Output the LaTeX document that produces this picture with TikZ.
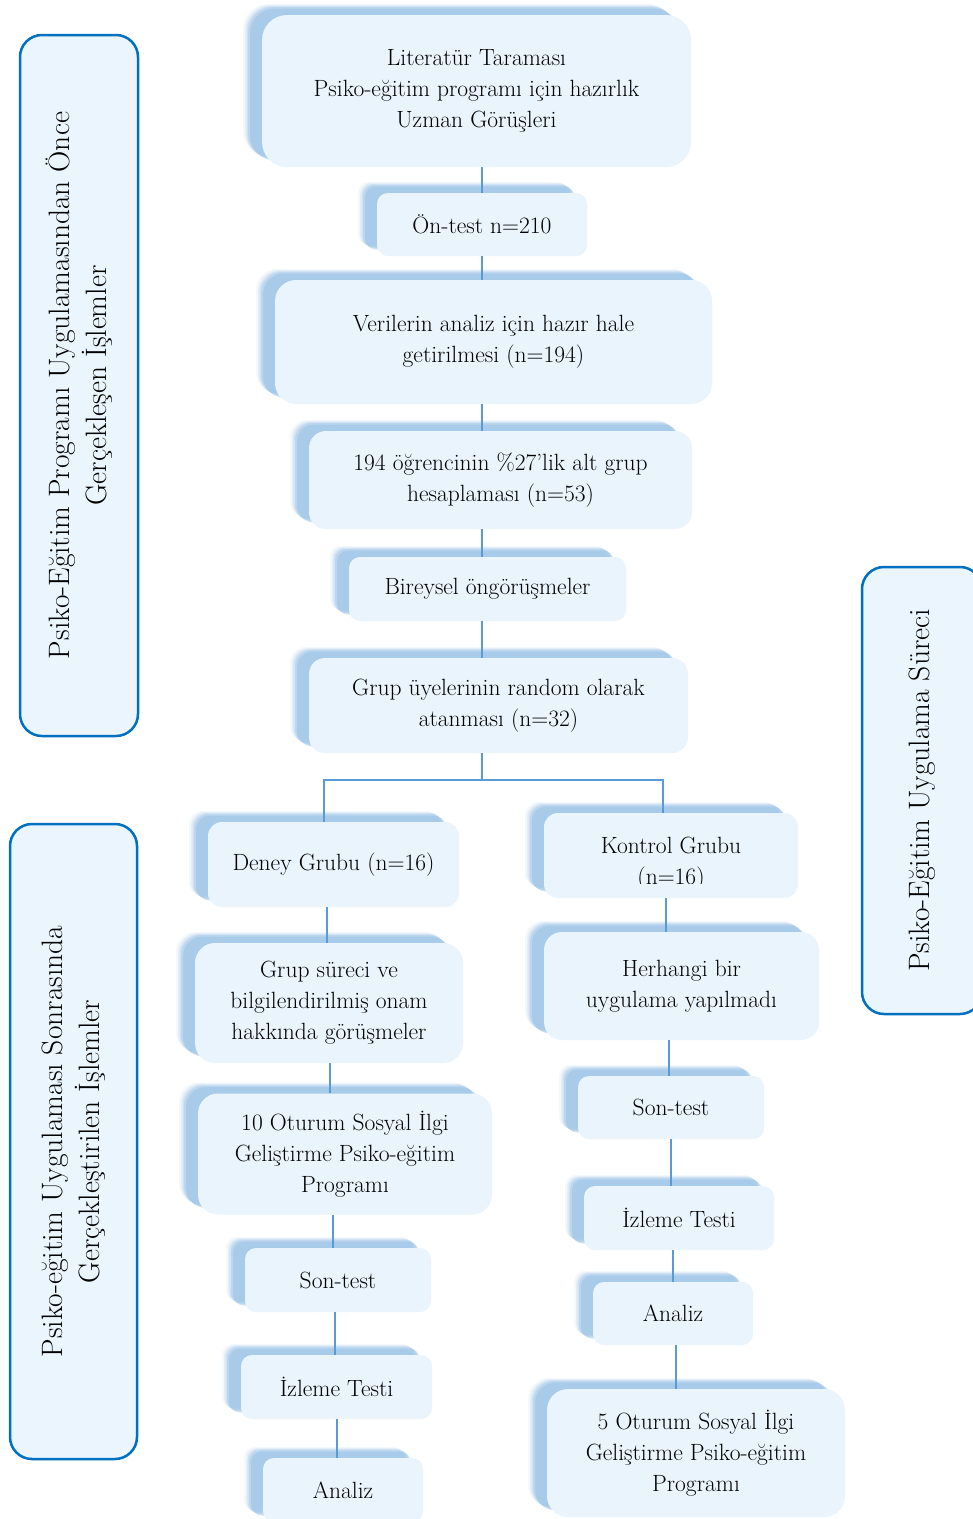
\documentclass[tikz,border=0pt]{standalone}
\usepackage{fontspec}
\usetikzlibrary{shadows}
\definecolor{boxfill}{HTML}{E9F4FD}
\definecolor{sidefill}{HTML}{EAF5FE}
\definecolor{sideline}{HTML}{0070C0}
\definecolor{conn}{HTML}{5B9BD5}
\definecolor{shade}{HTML}{8DBBE3}
\tikzset{
  stepbox/.style={fill=boxfill, inner sep=0pt, align=center,
    font=\fontsize{23.5}{31}\selectfont,
    general shadow={shadow xshift=-19pt, shadow yshift=11pt, fill=shade, opacity=0.10},
    general shadow={shadow xshift=-17pt, shadow yshift=10pt, fill=shade, opacity=0.15},
    general shadow={shadow xshift=-15.5pt, shadow yshift=9pt, fill=shade, opacity=0.22},
    general shadow={shadow xshift=-14pt, shadow yshift=8pt, fill=shade, opacity=0.3},
    general shadow={shadow xshift=-12pt, shadow yshift=6.5pt, fill=shade, opacity=0.4}},
  sidebox/.style={fill=sidefill, draw=sideline, line width=2.5pt, inner sep=0pt,
    align=center, rounded corners=22pt, font=\fontsize{29.5}{37}\selectfont},
  link/.style={draw=conn, line width=1.2pt},
  plaintext/.style={inner sep=0pt, align=center, font=\fontsize{23.5}{31}\selectfont}
}
\begin{document}
\begin{tikzpicture}[x=1pt,y=-1pt]
\fill[white] (0,0) rectangle (973,1519);
\useasboundingbox (0,0) rectangle (973,1519);

% side boxes
\node[sidebox, rotate=90, minimum width=701pt, minimum height=118pt] (sa) at (79,385.5)
  {Psiko-Eğitim Programı Uygulamasından Önce\\Gerçekleşen İşlemler};
\node[sidebox, rotate=90, minimum width=635pt, minimum height=127pt] (sb) at (73.5,1141.5)
  {Psiko-eğitim Uygulaması Sonrasında\\Gerçekleştirilen İşlemler};
\node[sidebox, rotate=90, minimum width=447pt, minimum height=120pt] (sc) at (922,790.5)
  {Psiko-Eğitim Uygulama Süreci};

% main column
\node[stepbox, minimum width=429pt, minimum height=152pt, rounded corners=25pt] (lit) at (476.5,91)
  {Literatür Taraması\\Psiko-eğitim programı için hazırlık\\Uzman Görüşleri};
\node[stepbox, minimum width=210pt, minimum height=63pt, rounded corners=11pt] (ont) at (482,224.5)
  {Ön-test n=210};
\node[stepbox, minimum width=437pt, minimum height=124pt, rounded corners=21pt] (ver) at (493.5,342)
  {Verilerin analiz için hazır hale\\getirilmesi (n=194)};
\node[stepbox, minimum width=383pt, minimum height=98pt, rounded corners=17pt] (ogr) at (500.5,480)
  {194 öğrencinin \%27’lik alt grup\\hesaplaması (n=53)};
\node[stepbox, minimum width=277pt, minimum height=64pt, rounded corners=11pt] (bir) at (487.5,589)
  {Bireysel öngörüşmeler};
\node[stepbox, minimum width=379pt, minimum height=95pt, rounded corners=16pt] (grp) at (498.5,705.5)
  {Grup üyelerinin random olarak\\atanması (n=32)};

% left column
\node[stepbox, minimum width=251pt, minimum height=85pt, rounded corners=14pt] (den) at (333.5,864.5)
  {Deney Grubu (n=16)};
\node[stepbox, minimum width=268pt, minimum height=120pt, rounded corners=20pt] (grs) at (329,1003)
  {Grup süreci ve\\bilgilendirilmiş onam\\hakkında görüşmeler};
\node[stepbox, minimum width=294pt, minimum height=121pt, rounded corners=20pt] (ot10) at (345,1154)
  {10 Oturum Sosyal İlgi\\Geliştirme Psiko-eğitim\\Programı};
\node[stepbox, minimum width=186pt, minimum height=64pt, rounded corners=11pt] (sonl) at (338,1280)
  {Son-test};
\node[stepbox, minimum width=191pt, minimum height=64pt, rounded corners=11pt] (izll) at (336.5,1387)
  {İzleme Testi};
\node[stepbox, minimum width=160pt, minimum height=64pt, rounded corners=11pt] (anal) at (343,1490)
  {Analiz};

% right column
\node[stepbox, minimum width=254pt, minimum height=85pt, rounded corners=14pt] (kon) at (671,855.5) {};
\begin{scope}
  \clip (544,813) rectangle (798,883);
  \node[plaintext] (kontxt) at (671,864) {Kontrol Grubu\\(n=16)};
\end{scope}
\node[stepbox, minimum width=275pt, minimum height=108pt, rounded corners=18pt] (her) at (681.5,986)
  {Herhangi bir\\uygulama yapılmadı};
\node[stepbox, minimum width=186pt, minimum height=63pt, rounded corners=11pt] (sonr) at (671,1107.5)
  {Son-test};
\node[stepbox, minimum width=190pt, minimum height=64pt, rounded corners=11pt] (izlr) at (679,1218)
  {İzleme Testi};
\node[stepbox, minimum width=160pt, minimum height=63pt, rounded corners=11pt] (anar) at (673,1313.5)
  {Analiz};
\node[stepbox, minimum width=298pt, minimum height=128pt, rounded corners=21pt] (ot5) at (696,1453)
  {5 Oturum Sosyal İlgi\\Geliştirme Psiko-eğitim\\Programı};

% connector columns
\coordinate (mc) at (482,0);
\coordinate (bj) at (482,780);
\coordinate (bl) at (324,780);
\coordinate (brr) at (663,780);
\coordinate (l1) at (327,0);
\coordinate (l2) at (330,0);
\coordinate (l3) at (333,0);
\coordinate (l4) at (335,0);
\coordinate (l5) at (337,0);
\coordinate (r1) at (666,0);
\coordinate (r2) at (669,0);
\coordinate (r3) at (671,0);
\coordinate (r4) at (673,0);
\coordinate (r5) at (676,0);

\draw[link] (lit.south -| mc) -- (ont.north -| mc);
\draw[link] (ont.south -| mc) -- (ver.north -| mc);
\draw[link] (ver.south -| mc) -- (ogr.north -| mc);
\draw[link] (ogr.south -| mc) -- (bir.north -| mc);
\draw[link] (bir.south -| mc) -- (grp.north -| mc);
\draw[link] (grp.south -| mc) -- (bj);
\draw[link] (den.north -| bl) -- (bl) -- (brr) -- (kon.north -| brr);
\draw[link] (den.south -| l1) -- (grs.north -| l1);
\draw[link] (grs.south -| l2) -- (ot10.north -| l2);
\draw[link] (ot10.south -| l3) -- (sonl.north -| l3);
\draw[link] (sonl.south -| l4) -- (izll.north -| l4);
\draw[link] (izll.south -| l5) -- (anal.north -| l5);
\draw[link] (kon.south -| r1) -- (her.north -| r1);
\draw[link] (her.south -| r2) -- (sonr.north -| r2);
\draw[link] (sonr.south -| r3) -- (izlr.north -| r3);
\draw[link] (izlr.south -| r4) -- (anar.north -| r4);
\draw[link] (anar.south -| r5) -- (ot5.north -| r5);
\end{tikzpicture}
\end{document}
